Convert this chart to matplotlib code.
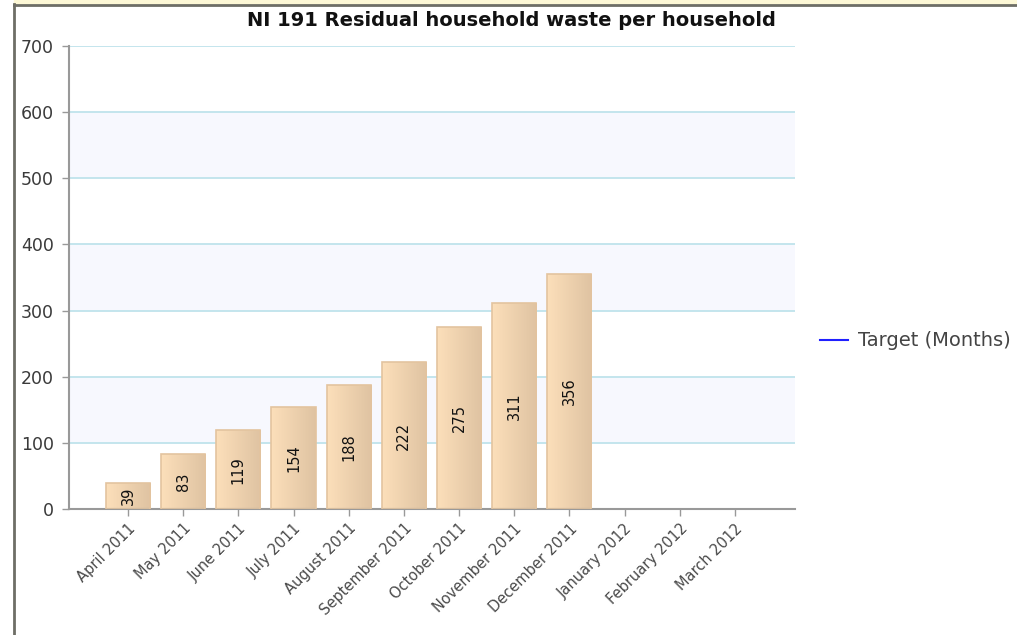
import numpy as np
import matplotlib.pyplot as plt
from matplotlib.patches import Rectangle
from matplotlib.lines import Line2D
from matplotlib.colors import LinearSegmentedColormap

# Datos del grafico
months = ['April 2011', 'May 2011', 'June 2011', 'July 2011', 'August 2011',
          'September 2011', 'October 2011', 'November 2011', 'December 2011',
          'January 2012', 'February 2012', 'March 2012']
waste = [39, 83, 119, 154, 188, 222, 275, 311, 356]
target = []  # sin valores para el objetivo
yticks = [0, 100, 200, 300, 400, 500, 600, 700]

fig = plt.figure(figsize=(10.17, 6.35), dpi=100)
ax = fig.add_axes([69/1017, 1-509/635, (795-69)/1017, (509-46)/635])

# Bandas alternas y rejilla
for lo in (100, 300, 500):
    ax.axhspan(lo, lo+100, color='#f7f8fe', zorder=0, lw=0)
for y in yticks[1:]:
    ax.axhline(y, color='#bfe3ec', lw=1.3, zorder=1)

# Barras con degradado
grad = np.linspace(0, 1, 64).reshape(1, -1)
cmap = LinearSegmentedColormap.from_list('tan', ['#fcdfba', '#dfc3a2'])
x = np.arange(len(waste))
bars = ax.bar(x, waste, width=0.8, color='none', edgecolor='#e3c49f', lw=1.2, zorder=3)
for b, v in zip(bars, waste):
    x0 = b.get_x()
    w = b.get_width()
    im = ax.imshow(grad, cmap=cmap, extent=[x0, x0+w, 0, v], aspect='auto', zorder=2)
    im.set_clip_path(b)
    ax.text(x0+w/2, v/2, str(v), rotation=90, ha='center', va='center',
            fontsize=10.5, color='#111111', zorder=4)

# Linea objetivo (vacia)
ax.plot(target, target, color='#2020ff', lw=1.5)

ax.set_xlim(-1.07, 12.09)
ax.set_ylim(0, 700)
ax.set_yticks(yticks)
ax.set_yticklabels([str(t) for t in yticks], fontsize=12.5, color='#3a3a3a')
ax.set_xticks(np.arange(len(months)))
ax.set_xticklabels(months, rotation=45, ha='right', rotation_mode='anchor',
                   fontsize=10.5, color='#4a4a4a')
ax.tick_params(axis='both', length=5, color='#999999', width=1)
ax.tick_params(axis='y', pad=6)
for s in ('top', 'right'):
    ax.spines[s].set_visible(False)
ax.spines['left'].set_color('#999999')
ax.spines['bottom'].set_color('#999999')
ax.spines['left'].set_linewidth(1.5)
ax.spines['bottom'].set_linewidth(1.5)

fig.text(511/1017, 1-20/635, 'NI 191 Residual household waste per household',
         ha='center', va='center', fontsize=14, fontweight='bold', color='#111111')

# Leyenda
leg = fig.legend([Line2D([], [], color='#2020ff', lw=1.5)], ['Target (Months)'],
                 loc='center left', bbox_to_anchor=(820/1017, 1-341/635),
                 frameon=False, fontsize=14, handlelength=1.45, handletextpad=0.5,
                 borderaxespad=0, borderpad=0)
for t in leg.get_texts():
    t.set_color('#444444')

# Marco de la pagina
fig.patches.append(Rectangle((14/1017, 1-4/635), 1, 4/635, transform=fig.transFigure,
                             color='#fdf8d6', zorder=0))
fig.lines.append(Line2D([14/1017, 1], [1-4.5/635, 1-4.5/635], transform=fig.transFigure,
                        color='#6e6e66', lw=2))
fig.lines.append(Line2D([14/1017, 14/1017], [0, 1-3.5/635], transform=fig.transFigure,
                        color='#6e6e66', lw=2))

fig.savefig('out.png', dpi=100)
